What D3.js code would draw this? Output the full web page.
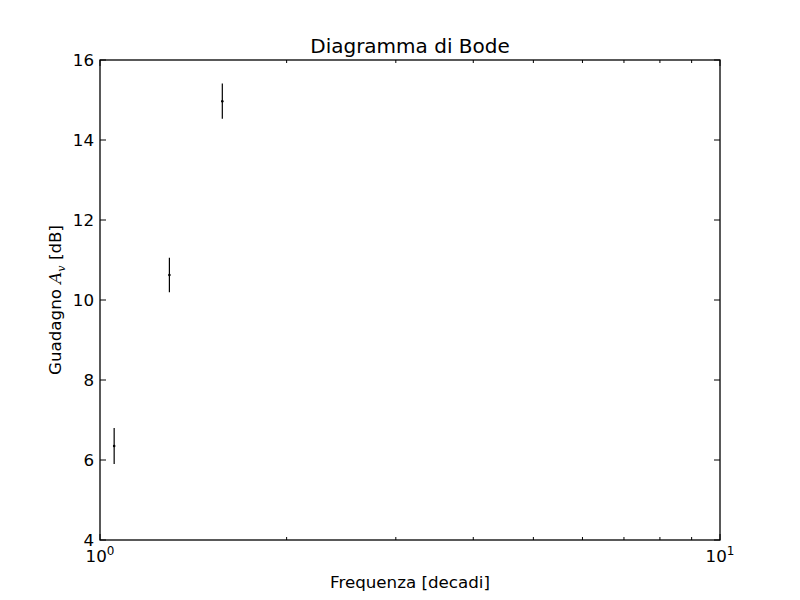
<!DOCTYPE html>
<html>
<head>
<meta charset="utf-8">
<script src="https://cdn.jsdelivr.net/npm/d3@7"></script>
<style>
body { margin: 0; background: #fff; }
text { font-family: "DejaVu Sans", sans-serif; }
</style>
</head>
<body>
<script>
// misure (frequenza, guadagno, errore)
var freq = [1.054, 1.294, 1.575];
var gain = [6.35, 10.625, 14.97];
var gainErr = [0.45, 0.43, 0.44];
var yTicks = [4, 6, 8, 10, 12, 14, 16];
var xMajor = [1, 10];
var xMinor = [2, 3, 4, 5, 6, 7, 8, 9];

var W = 800, H = 600;
var m = {left: 100, right: 80, top: 60, bottom: 60};

var svg = d3.select("body").append("svg")
	.attr("width", W)
	.attr("height", H);

var x = d3.scaleLog().domain([1, 10]).range([m.left, W - m.right]);
var y = d3.scaleLinear().domain([4, 16]).range([H - m.bottom, m.top]);

var g = svg.append("g");

// ticks, pointing inward on all four sides
function tickLines(vals, scale, len, horiz) {
	vals.forEach(function(v) {
		if (horiz) {
			g.append("line").attr("x1", scale(v)).attr("x2", scale(v))
				.attr("y1", y.range()[0]).attr("y2", y.range()[0] - len)
				.attr("stroke", "black");
			g.append("line").attr("x1", scale(v)).attr("x2", scale(v))
				.attr("y1", y.range()[1]).attr("y2", y.range()[1] + len)
				.attr("stroke", "black");
		} else {
			g.append("line").attr("y1", scale(v)).attr("y2", scale(v))
				.attr("x1", x.range()[0]).attr("x2", x.range()[0] + len)
				.attr("stroke", "black");
			g.append("line").attr("y1", scale(v)).attr("y2", scale(v))
				.attr("x1", x.range()[1]).attr("x2", x.range()[1] - len)
				.attr("stroke", "black");
		}
	});
}
tickLines(xMajor, x, 6, true);
tickLines(xMinor, x, 3, true);
tickLines(yTicks, y, 6, false);

// y tick labels
g.selectAll(".ylab")
	.data(yTicks)
	.enter().append("text")
	.attr("x", m.left - 6)
	.attr("y", function(d) { return y(d) + 6; })
	.attr("text-anchor", "end")
	.style("font-size", "16.7px")
	.text(String);

// x tick labels 10^n
xMajor.forEach(function(v) {
	var t = g.append("text")
		.attr("x", x(v))
		.attr("y", H - m.bottom + 22)
		.attr("text-anchor", "middle")
		.style("font-size", "16.7px");
	t.append("tspan").text("10");
	t.append("tspan").attr("dy", -7).style("font-size", "12px").text(Math.round(Math.log10(v)));
});

// frame
g.append("rect")
	.attr("x", m.left).attr("y", m.top)
	.attr("width", W - m.left - m.right)
	.attr("height", H - m.top - m.bottom)
	.attr("fill", "none")
	.attr("stroke", "black")
	.attr("stroke-width", 1.3);

// error bars
var pts = freq.map(function(f, i) { return {f: f, g: gain[i], e: gainErr[i]}; });
g.selectAll(".err")
	.data(pts)
	.enter().append("line")
	.attr("x1", function(d) { return x(d.f); })
	.attr("x2", function(d) { return x(d.f); })
	.attr("y1", function(d) { return y(d.g - d.e); })
	.attr("y2", function(d) { return y(d.g + d.e); })
	.attr("stroke", "black")
	.attr("stroke-width", 1.2);
g.selectAll(".pt")
	.data(pts)
	.enter().append("circle")
	.attr("cx", function(d) { return x(d.f); })
	.attr("cy", function(d) { return y(d.g); })
	.attr("r", 1.3)
	.attr("fill", "black");

// titles
svg.append("text")
	.attr("x", (m.left + W - m.right) / 2)
	.attr("y", 53)
	.attr("text-anchor", "middle")
	.style("font-size", "20px")
	.text("Diagramma di Bode");

svg.append("text")
	.attr("x", (m.left + W - m.right) / 2)
	.attr("y", 588)
	.attr("text-anchor", "middle")
	.style("font-size", "16.7px")
	.text("Frequenza [decadi]");

var yl = svg.append("text")
	.attr("transform", "translate(61," + (H - m.bottom + m.top) / 2 + ")rotate(-90)")
	.attr("text-anchor", "middle")
	.style("font-size", "16.7px");
yl.append("tspan").text("Guadagno ");
yl.append("tspan").style("font-family", "DejaVu Serif").style("font-style", "italic").text("A");
yl.append("tspan").attr("dy", 4).style("font-family", "DejaVu Serif").style("font-style", "italic").style("font-size", "11px").text("v");
yl.append("tspan").attr("dy", -4).text(" [dB]");
</script>
</body>
</html>
